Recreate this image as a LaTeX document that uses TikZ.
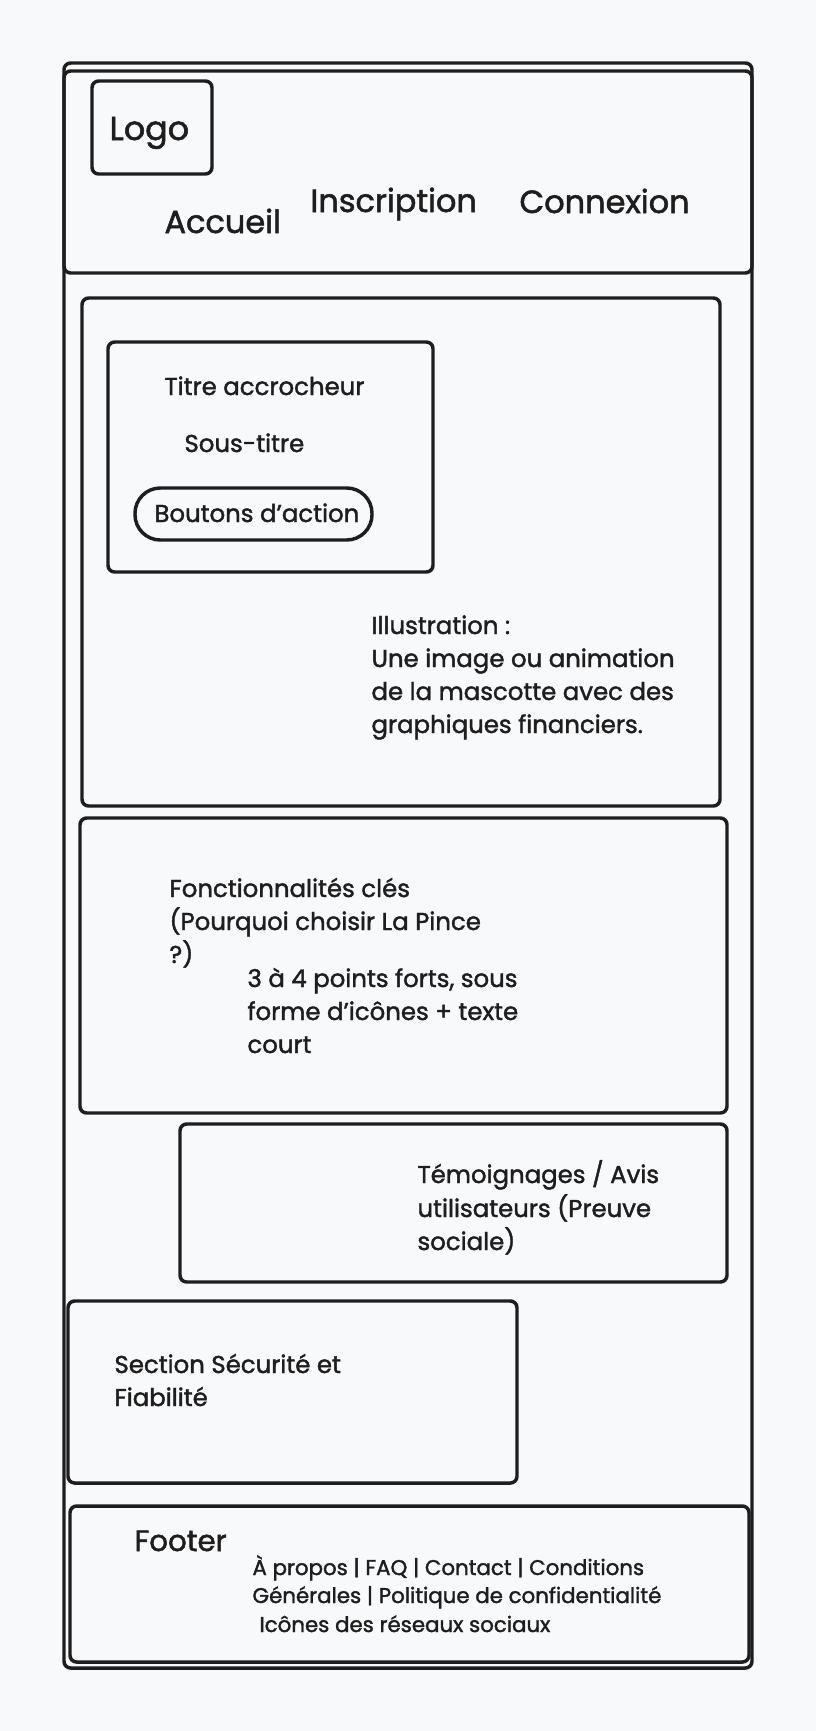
\documentclass[tikz,border=0pt]{standalone}
\usepackage{fontspec}
\setmainfont{Poppins}[FakeBold=1.6]
\definecolor{ink}{RGB}{30,30,30}
\definecolor{paper}{RGB}{248,249,251}

\tikzset{every picture/.style={line width=0.75pt}}
\tikzset{
  wbox/.style={draw=ink, line width=2.6pt, rounded corners=5pt},
  hdtxt/.style={anchor=base west, inner sep=0pt, text=ink, font=\fontsize{24}{29}\selectfont},
  txt/.style={anchor=base west, inner sep=0pt, text=ink, font=\fontsize{18.3}{22}\selectfont},
  smalltxt/.style={anchor=base west, inner sep=0pt, text=ink, font=\fontsize{16}{19}\selectfont}
}

\begin{document}
\begin{tikzpicture}[x=0.75pt,y=0.75pt,yscale=-1,xscale=1]

\fill [paper] (0,0) rectangle (816,1731);
\useasboundingbox (0,0) rectangle (816,1731);

% page frame and header
\draw [wbox]    (64,63) rectangle (752,1668) ;
\draw [wbox]    (64,71) rectangle (752,273) ;
\draw [wbox]    (92,81) rectangle (212,174) ;
% hero
\draw [wbox]    (82,298) rectangle (720,806) ;
\draw [wbox]    (108,342) rectangle (433,572) ;
\draw [wbox, rounded corners=19pt]    (135,488) rectangle (372,540) ;
% features, reviews, security
\draw [wbox]    (80,818) rectangle (727,1113) ;
\draw [wbox]    (180,1124) rectangle (727,1282) ;
\draw [wbox]    (68,1301) rectangle (517,1483) ;
% footer
\draw [wbox]    (70,1506) rectangle (749,1662) ;

\draw (109,140) node (logo) [hdtxt, font=\fontsize{25}{30}\selectfont] {Logo};
\draw (164,233) node (accueil) [hdtxt] {Accueil};
\draw (310,212) node (inscription) [hdtxt] {Inscription};
\draw (519,213) node (connexion) [hdtxt] {Connexion};

\draw (164,395) node (titre) [txt] {Titre accrocheur};
\draw (184,452) node (soustitre) [txt] {Sous-titre};
\draw (154,522) node (boutons) [txt] {Boutons d’action};

\draw (371,634) node (illu1) [txt] {Illustration :};
\draw (371,667) node (illu2) [txt] {Une image ou animation};
\draw (371,700) node (illu3) [txt] {de la mascotte avec des};
\draw (371,733) node (illu4) [txt] {graphiques financiers.};

\draw (169,897) node (fonc1) [txt] {Fonctionnalités clés};
\draw (169,930) node (fonc2) [txt] {(Pourquoi choisir La Pince};
\draw (169,963) node (fonc3) [txt] {?)};
\draw (247,987) node (pts1) [txt] {3 à 4 points forts, sous};
\draw (247,1020) node (pts2) [txt] {forme d’icônes + texte};
\draw (247,1053) node (pts3) [txt] {court};

\draw (417,1183) node (avis1) [txt] {Témoignages / Avis};
\draw (417,1217) node (avis2) [txt] {utilisateurs (Preuve};
\draw (417,1250) node (avis3) [txt] {sociale)};

\draw (114,1373) node (secu1) [txt] {Section Sécurité et};
\draw (114,1406) node (secu2) [txt] {Fiabilité};

\draw (134,1551) node (footer) [hdtxt, font=\fontsize{22}{26}\selectfont] {Footer};
\draw (252,1575) node (liens1) [smalltxt] {À propos | FAQ | Contact | Conditions};
\draw (252,1603) node (liens2) [smalltxt] {Générales | Politique de confidentialité};
\draw (259,1632) node (reseaux) [smalltxt] {Icônes des réseaux sociaux};
\end{tikzpicture}
\end{document}
